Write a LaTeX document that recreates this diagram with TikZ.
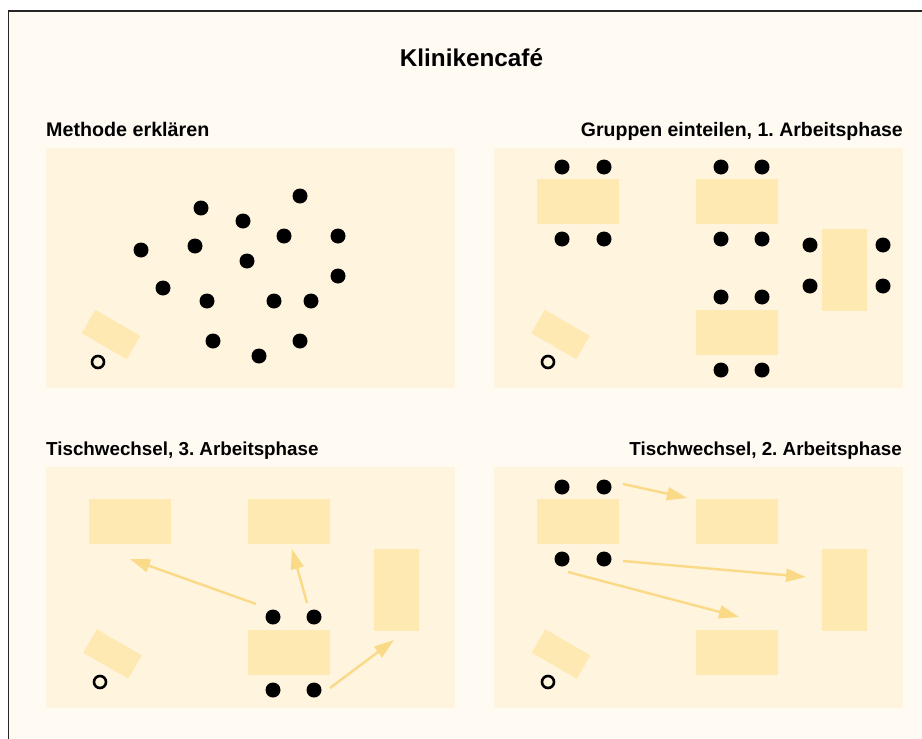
\documentclass[tikz,border=0pt]{standalone}
\usepackage{fontspec}
\setmainfont{Liberation Sans}
\usetikzlibrary{arrows.meta}
\frenchspacing
\definecolor{framebg}{RGB}{255,250,242}
\definecolor{panelbg}{RGB}{255,244,222}
\definecolor{tablec}{RGB}{255,233,178}
\definecolor{arrowc}{RGB}{250,218,135}
\tikzset{
  panel/.style={fill=panelbg, draw=none},
  tablebox/.style={fill=tablec, draw=none, inner sep=0pt, minimum width=82pt, minimum height=45pt},
  tablev/.style={fill=tablec, draw=none, inner sep=0pt, minimum width=45pt, minimum height=82pt},
  buffet/.style={fill=tablec, draw=none, inner sep=0pt, minimum width=52pt, minimum height=27pt, rotate=-30},
  person/.style={circle, fill=black, draw=none, inner sep=0pt, minimum size=15pt},
  host/.style={circle, draw=black, line width=2.6pt, fill=none, inner sep=0pt, minimum size=12pt},
  moveto/.style={draw=arrowc, line width=2.4pt, -{Triangle[length=20pt,width=13pt]}},
  heading/.style={font=\fontsize{#1}{22}\selectfont\bfseries, inner sep=0pt},
  heading/.default=19.7,
  titletext/.style={font=\fontsize{24.3}{28}\selectfont\bfseries, inner sep=0pt}
}
\begin{document}
\begin{tikzpicture}[x=1pt,y=-1pt]
\useasboundingbox (0,0) rectangle (922,739);
% frame
\fill[framebg] (8.5,11) rectangle (922,739);
\draw[line width=1.3pt, black!85] (8.5,739) -- (8.5,11) -- (922,11);
% title
\node[titletext, anchor=base] (title) at (471.5,66) {Klinikencafé};
% headings
\node[heading, anchor=base west] (h1) at (46,136) {Methode erklären};
\node[heading=19.5, anchor=base east] (h2) at (903,136) {Gruppen einteilen, 1. Arbeitsphase};
\node[heading=18.8, anchor=base west] (h3) at (46,455) {Tischwechsel, 3. Arbeitsphase};
\node[heading=18.8, anchor=base east] (h4) at (902,455) {Tischwechsel, 2. Arbeitsphase};
% panels
\fill[panel] (46,148) rectangle (455,388);
\fill[panel] (494,148) rectangle (903,388);
\fill[panel] (46,467) rectangle (455,708);
\fill[panel] (494,467) rectangle (903,708);

% ---------- Panel 1: Methode erklaeren
\node[buffet] (p1buf) at (111,334.5) {};
\node[host] (p1host) at (98,362) {};
\foreach \n/\x/\y in {1/201/208, 2/300/196, 3/243/221, 4/141/250, 5/195/246, 6/284/236,
  7/338/236, 8/247/261, 9/163/288, 10/207/301, 11/274/301, 12/311/301, 13/338/276,
  14/213/341, 15/259/356, 16/300/341}
  \node[person] (p1d\n) at (\x,\y) {};

% ---------- Panel 2: Gruppen einteilen
\node[tablebox] (p2tA) at (578,201.5) {};
\node[tablebox] (p2tB) at (737,201.5) {};
\node[tablev]   (p2tC) at (844.5,270) {};
\node[tablebox] (p2tD) at (737,332.5) {};
\node[buffet] (p2buf) at (560.5,334.5) {};
\node[host] (p2host) at (548,362) {};
\foreach \n/\x/\y in {1/562/167, 2/604/167, 3/562/239, 4/604/239,
  5/721/167, 6/762/167, 7/721/239, 8/762/239,
  9/810/245, 10/810/286, 11/883/245, 12/883/286,
  13/721/297, 14/762/297, 15/721/370, 16/762/370}
  \node[person] (p2d\n) at (\x,\y) {};

% ---------- Panel 3: Tischwechsel, 3. Arbeitsphase
\node[tablebox] (p3tA) at (130,521.5) {};
\node[tablebox] (p3tB) at (289,521.5) {};
\node[tablev]   (p3tC) at (396.5,590) {};
\node[tablebox] (p3tD) at (289,652.5) {};
\node[buffet] (p3buf) at (112.5,654) {};
\node[host] (p3host) at (100,682) {};
\node[person] (p3d1) at (273,617) {};
\node[person] (p3d2) at (314,617) {};
\node[person] (p3d3) at (273,690) {};
\node[person] (p3d4) at (314,690) {};
\coordinate (p3s1) at (256,604);
\coordinate (p3e1) at (130,559);
\coordinate (p3s2) at (307,603);
\coordinate (p3e2) at (292,549);
\coordinate (p3s3) at (330,688);
\coordinate (p3e3) at (394,640);
\draw[moveto] (p3s1) -- (p3e1);
\draw[moveto] (p3s2) -- (p3e2);
\draw[moveto] (p3s3) -- (p3e3);

% ---------- Panel 4: Tischwechsel, 2. Arbeitsphase
\node[tablebox] (p4tA) at (578,521.5) {};
\node[tablebox] (p4tB) at (737,521.5) {};
\node[tablev]   (p4tC) at (844.5,590) {};
\node[tablebox] (p4tD) at (737,652.5) {};
\node[buffet] (p4buf) at (561,654) {};
\node[host] (p4host) at (548,682) {};
\node[person] (p4d1) at (562,487) {};
\node[person] (p4d2) at (604,487) {};
\node[person] (p4d3) at (562,559) {};
\node[person] (p4d4) at (604,559) {};
\coordinate (p4s1) at (623,484);
\coordinate (p4e1) at (687,498);
\coordinate (p4s2) at (623,561);
\coordinate (p4e2) at (806,577);
\coordinate (p4s3) at (568,572);
\coordinate (p4e3) at (739,617);
\draw[moveto] (p4s1) -- (p4e1);
\draw[moveto] (p4s2) -- (p4e2);
\draw[moveto] (p4s3) -- (p4e3);
\end{tikzpicture}
\end{document}
